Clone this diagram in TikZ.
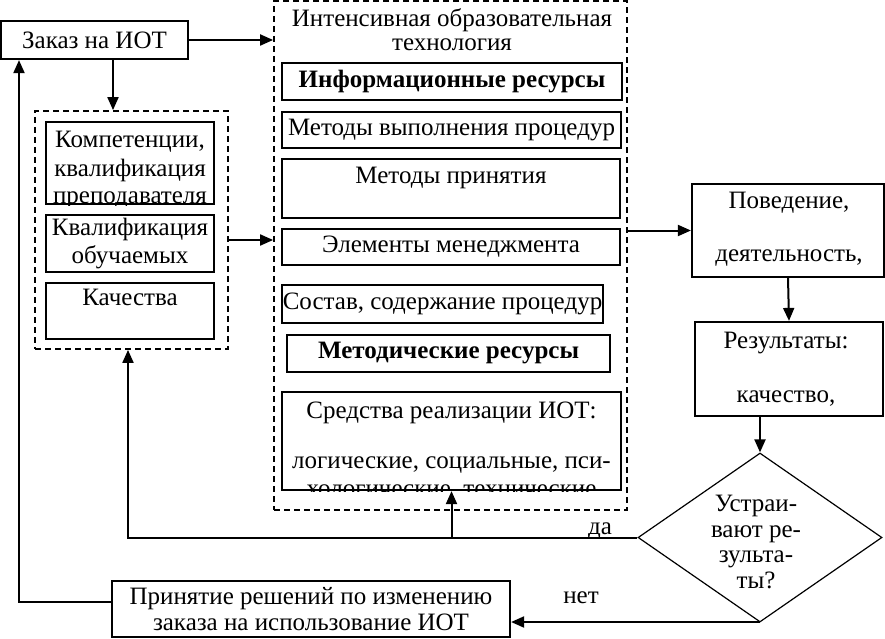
\documentclass[tikz,border=0pt]{standalone}
\usepackage{fontspec}
\setmainfont{Liberation Serif}
\usetikzlibrary{arrows.meta,shapes.geometric}

\tikzset{
  box/.style={draw, line width=2.2pt, inner sep=0pt, align=center},
  group/.style={draw, line width=1.8pt, inner sep=0pt, dash pattern=on 6pt off 4pt},
  txt/.style={inner sep=0pt, align=center},
  link/.style={line width=2pt},
  flow/.style={link, -{Triangle[length=13pt,width=11pt]}},
}

\begin{document}
\begin{tikzpicture}[x=1pt, y=-1pt, every node/.style={font=\fontsize{25}{28}\selectfont}]
  \useasboundingbox (0,0) rectangle (885,639);

  % order and left group
  \node[box, minimum width=187pt, minimum height=38pt] (zakaz) at (94.5,40) {Заказ на ИОТ};
  \node[group, minimum width=193pt, minimum height=238pt] (grpL) at (131.5,230) {};
  \node[box, minimum width=168pt, minimum height=82pt] (komp) at (130,163) {};
  \begin{scope}
    \clip (komp.north west) rectangle (komp.south east);
    \node[txt, anchor=base] (kompT) at (130,204) {Компетенции,\\квалификация\\преподавателя};
  \end{scope}
  \node[box, minimum width=168pt, minimum height=57pt] (kvalob) at (130,243.5) {Квалификация\\обучаемых};
  \node[box, minimum width=168pt, minimum height=56pt] (kach) at (130,311) {};
  \node[txt, anchor=base] (kachT) at (130,305) {Качества};

  % technology
  \node[group, minimum width=353pt, minimum height=509pt] (grpM) at (450.5,255.5) {};
  \node[txt, anchor=base, font=\fontsize{25}{24}\selectfont] (techT) at (452,51) {Интенсивная образовательная\\технология};
  \node[box, minimum width=340pt, minimum height=37pt, font=\fontsize{25}{28}\selectfont\bfseries] (inf) at (452,81.5) {Информационные ресурсы};
  \node[box, minimum width=339pt, minimum height=36pt] (metvyp) at (451.5,130) {Методы выполнения процедур};
  \node[box, minimum width=338pt, minimum height=59pt] (metpr) at (451,188.5) {};
  \node[txt, anchor=base] (metprT) at (451,183) {Методы принятия};
  \node[box, minimum width=338pt, minimum height=36pt] (elem) at (451,247) {Элементы менеджмента};
  \node[box, minimum width=321pt, minimum height=38pt] (sostav) at (442.5,304) {Состав, содержание процедур};
  \node[box, minimum width=323pt, minimum height=37pt, font=\fontsize{25}{28}\selectfont\bfseries] (metod) at (448.5,353.5) {Методические ресурсы};
  \node[box, minimum width=339pt, minimum height=98pt] (sredst) at (451.5,441) {};
  \begin{scope}
    \clip (sredst.north west) rectangle (sredst.south east);
    \node[txt, anchor=base] (sredstT) at (451.5,496) {Средства реализации ИОТ:\\[22pt]логические, социальные, пси-\\хологические, технические};
  \end{scope}

  % results
  \node[box, minimum width=192pt, minimum height=93pt] (pov) at (788,230.5) {};
  \node[txt, anchor=base] (povT) at (789,261) {Поведение,\\[25pt]деятельность,};
  \node[box, minimum width=188pt, minimum height=94pt] (res) at (789,369) {};
  \node[txt, anchor=base] (resT) at (786,402) {Результаты:\\[26pt]качество,};
  \node[draw, diamond, line width=1.2pt, inner sep=0pt, minimum width=244pt, minimum height=169pt] (dia) at (760,537.5) {};
  \node[txt, font=\fontsize{25}{25.5}\selectfont] (diaT) at (756,542) {Устраи-\\вают ре-\\зульта-\\ты?};
  \node[txt, anchor=base] (da) at (600,534) {да};
  \node[txt, anchor=base] (net) at (581,603) {нет};
  \node[box, minimum width=398pt, minimum height=56pt, font=\fontsize{25}{26}\selectfont] (prin) at (311,609) {Принятие решений по изменению\\заказа на использование ИОТ};

  % connectors
  \draw[flow] (zakaz.east) -- (zakaz.east -| grpM.west);
  \draw[flow] ([xshift=18.5pt]zakaz.south) -- ([xshift=18.5pt]zakaz.south |- grpL.north);
  \draw[flow] ([yshift=-10pt]grpL.east) -- ([yshift=-10pt]grpL.east -| grpM.west);
  \draw[flow] (grpM.east |- pov.west) -- (pov.west);
  \draw[flow] (pov.south) -- (res.north);
  \draw[flow] (res.south -| dia.north) -- (dia.north);
  \draw[flow] (dia.west) -| ([xshift=-3.5pt]grpL.south);
  \draw[flow] (sredst.south |- dia.west) -- (sredst.south);
  \draw[flow] ([yshift=-13pt]prin.east -| dia.south) -- ([yshift=-13pt]prin.east);
  \draw[flow] ([yshift=7pt]prin.west) -| ([xshift=-75.5pt]zakaz.south);
\end{tikzpicture}
\end{document}
